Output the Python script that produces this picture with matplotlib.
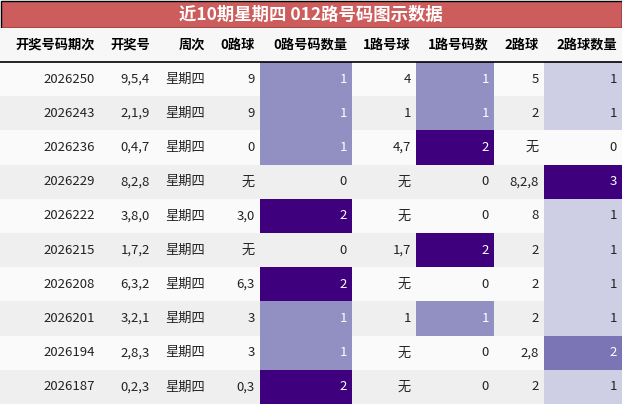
import matplotlib
matplotlib.use("Agg")
import matplotlib.pyplot as plt
from matplotlib.patches import Rectangle
import matplotlib.cm as cm

plt.rcParams['font.family'] = ['Noto Sans CJK SC', 'DejaVu Sans']

title = "近10期星期四 012路号码图示数据"
headers = ["开奖号码期次", "开奖号", "周次", "0路球", "0路号码数量", "1路号球", "1路号码数", "2路球", "2路球数量"]
periods = ["2026250", "2026243", "2026236", "2026229", "2026222", "2026215", "2026208", "2026201", "2026194", "2026187"]
numbers = ["9,5,4", "2,1,9", "0,4,7", "8,2,8", "3,8,0", "1,7,2", "6,3,2", "3,2,1", "2,8,3", "0,2,3"]
weekday = ["星期四"] * 10
r0 = ["9", "9", "0", "无", "3,0", "无", "6,3", "3", "3", "0,3"]
c0 = [1, 1, 1, 0, 2, 0, 2, 1, 1, 2]
r1 = ["4", "1", "4,7", "无", "无", "1,7", "无", "1", "无", "无"]
c1 = [1, 1, 2, 0, 0, 2, 0, 1, 0, 0]
r2 = ["5", "2", "无", "8,2,8", "8", "2", "2", "2", "2,8", "2"]
c2 = [1, 1, 0, 3, 1, 1, 1, 1, 2, 1]

W, H = 622, 404
fig = plt.figure(figsize=(W/100, H/100), dpi=100)
ax = fig.add_axes([0, 0, 1, 1])
ax.set_xlim(0, W); ax.set_ylim(H, 0); ax.axis('off')

edges = [0, 100, 155, 210, 260, 352, 416, 494, 544, 622]
title_h = 27
head_top, head_bot = 28, 62
row_h = (H - head_bot) / 10

ax.add_patch(Rectangle((0.5, 0.5), W-1, title_h, facecolor='#cd5c5c', edgecolor='black', lw=1))
ax.text(W/2, title_h/2+1, title, color='white', fontsize=12.5, fontweight='bold', ha='center', va='center')
ax.add_patch(Rectangle((0, head_top), W, head_bot-head_top, facecolor='#f7f7f7', edgecolor='none'))
ax.plot([0, W], [head_bot, head_bot], color='black', lw=1.2)
for j, h in enumerate(headers):
    ax.text(edges[j+1]-5, (head_top+head_bot)/2, h, fontsize=9.5, fontweight='bold', ha='right', va='center')

cmap = plt.get_cmap('Purples')
def color(v, vmax):
    if v == 0:
        return None
    return cmap(0.35 + 0.65*v/vmax) if vmax > 0 else None

cols = [periods, numbers, weekday, r0, c0, r1, c1, r2, c2]
maxs = {4: max(c0), 6: max(c1), 8: max(c2)}
for i in range(10):
    y = head_bot + i*row_h
    ax.add_patch(Rectangle((0, y), W, row_h, facecolor='#fafafa' if i % 2 == 0 else '#efefef', edgecolor='none'))
    for j, col in enumerate(cols):
        val = col[i]
        tc = '#222222'
        if j in maxs:
            fc = None
            if val > 0:
                frac = val / maxs[j]
                fc = cmap(0.45 + 0.55*frac) if maxs[j] >= 2 else cmap(0.6)
                if maxs[j] == 3:
                    fc = cmap(0.3 + 0.7*(val-1)/2 + 0.0)
                    fc = [cmap(0.3), cmap(0.65), cmap(1.0)][val-1]
                else:
                    fc = [cmap(0.55), cmap(1.0)][val-1]
                ax.add_patch(Rectangle((edges[j], y), edges[j+1]-edges[j], row_h, facecolor=fc, edgecolor='none'))
                tc = 'white' if not (maxs[j] == 3 and val == 1) else '#222222'
            ax.text(edges[j+1]-5, y+row_h/2, str(val), fontsize=9.5, ha='right', va='center', color=tc)
        else:
            ax.text(edges[j+1]-5, y+row_h/2, val, fontsize=9.5, ha='right', va='center', color=tc)

fig.savefig('out.png', dpi=100)
